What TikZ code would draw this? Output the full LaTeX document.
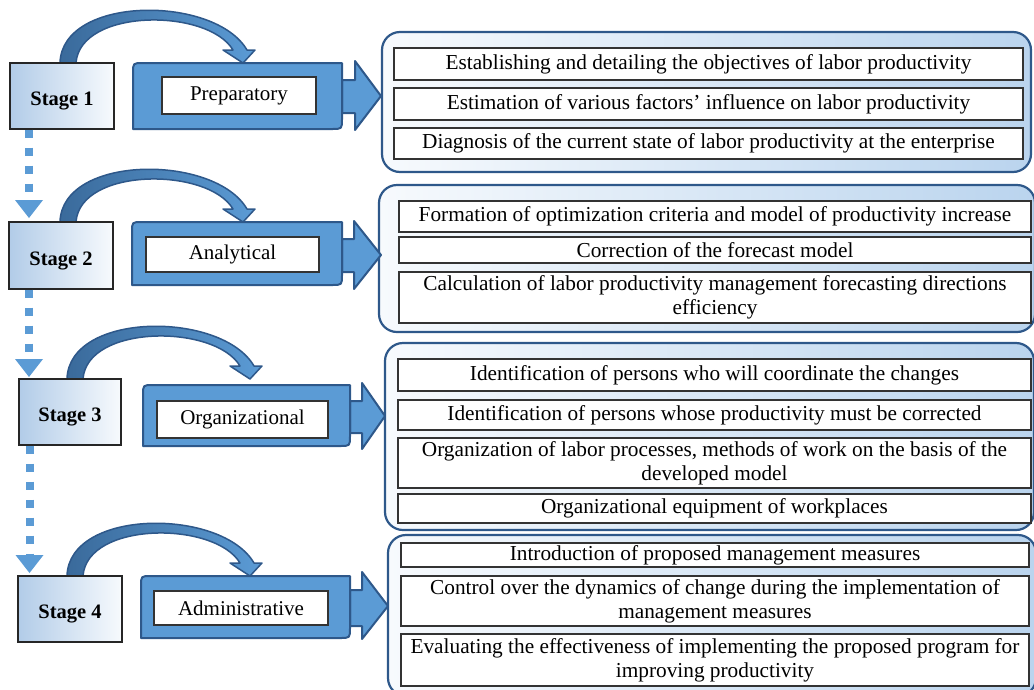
\documentclass[tikz,border=0pt]{standalone}
\usepackage{fontspec}
\setmainfont{Liberation Serif}
\usetikzlibrary{arrows.meta}
\definecolor{bfill}{RGB}{91,155,213}
\definecolor{bdark}{RGB}{46,88,138}
\definecolor{bandleft}{RGB}{58,106,155}
\definecolor{pright}{RGB}{186,212,238}
\definecolor{pleft}{RGB}{247,250,253}
\definecolor{sleft}{RGB}{178,204,232}
\definecolor{sright}{RGB}{247,250,253}
\newcommand\bentarrow[2]{%
  \path[band, shift={(#1,#2)}] (0,0) .. controls (2,-68) and (155,-68) .. (187,-13)
    -- (195,-13) -- (183,0) -- (163,-13) -- (173,-13)
    .. controls (148,-55) and (20,-55) .. (16,0) -- cycle;}
\tikzset{
  txt/.style={font=\fontsize{21.3pt}{24pt}\selectfont},
  stagebox/.style={draw=black!85, line width=1.2pt, left color=sleft, right color=sright,
    inner sep=0pt, text height=19pt, text depth=0pt, font=\fontsize{20.5pt}{23.5pt}\selectfont\bfseries},
  panel/.style={draw=bdark, line width=2.2pt, rounded corners=18pt, left color=pleft,
    right color=pright, inner sep=0pt},
  item/.style={txt, draw=black!80, fill=white, line width=1.2pt, inner sep=0pt, align=center},
  lbl/.style={item, font=\fontsize{21pt}{24pt}\selectfont},
  bluebox/.style={draw=bdark, line width=2pt, fill=bfill, line join=round},
  band/.style={draw=bdark, line width=1.5pt, left color=bandleft, right color=bfill, line join=round},
  dotline/.style={draw=bfill, line width=8pt, dash pattern=on 8pt off 10pt,
    -{Triangle[width=28pt,length=18pt,line width=0pt]}}
}
\begin{document}
\begin{tikzpicture}[x=1pt,y=-1pt]
\useasboundingbox (0,0) rectangle (1034,689);
\clip (0,0) rectangle (1034,689);

% panels
\node[panel, minimum width=649pt, minimum height=140pt] (P1) at (706.5,102) {};
\node[panel, minimum width=656pt, minimum height=147pt] (P2) at (707,258.5) {};
\node[panel, minimum width=649pt, minimum height=187pt] (P3) at (709.5,436.5) {};
\node[panel, minimum width=648pt, minimum height=161pt] (P4) at (712,615.5) {};

% block arrows
\path[bluebox] (342,80) -- (355,80) -- (355,61) -- (381,96) -- (355,130) -- (355,113) -- (342,113) -- cycle;
\path[bluebox] (342,239) -- (354,239) -- (354,221) -- (381,255) -- (354,289) -- (354,272) -- (342,272) -- cycle;
\path[bluebox] (350,401) -- (362,401) -- (362,383) -- (385,416) -- (362,449) -- (362,433) -- (350,433) -- cycle;
\path[bluebox] (350,590) -- (362,590) -- (362,572) -- (388,606) -- (362,639) -- (362,626) -- (350,626) -- cycle;

% blue boxes
\path[bluebox] (133,129) -- (133,73) .. controls (133,63) .. (143,63) -- (342,63) -- (342,119) .. controls (342,129) .. (332,129) -- cycle;
\path[bluebox] (132,285) -- (132,232) .. controls (132,222) .. (142,222) -- (342,222) -- (342,275) .. controls (342,285) .. (332,285) -- cycle;
\path[bluebox] (143,446) -- (143,395) .. controls (143,385) .. (153,385) -- (350,385) -- (350,436) .. controls (350,446) .. (340,446) -- cycle;
\path[bluebox] (141,638) -- (141,586) .. controls (141,576) .. (151,576) -- (350,576) -- (350,628) .. controls (350,638) .. (340,638) -- cycle;

\node[lbl, minimum width=154pt, minimum height=37pt] (b1) at (239,95.5) {Preparatory};
\node[lbl, minimum width=173pt, minimum height=35pt] (b2) at (232.5,254.5) {Analytical};
\node[lbl, minimum width=171pt, minimum height=37pt] (b3) at (242.5,419.5) {Organizational};
\node[lbl, minimum width=174pt, minimum height=34pt] (b4) at (241,608) {Administrative};

% bent arrows
\bentarrow{60}{63}
\bentarrow{60}{222}
\bentarrow{67}{379}
\bentarrow{67}{576}

% stages
\node[stagebox, minimum width=104pt, minimum height=66pt] (s1) at (62,96) {Stage 1};
\node[stagebox, minimum width=104pt, minimum height=67pt] (s2) at (61,255.5) {Stage 2};
\node[stagebox, minimum width=102pt, minimum height=66pt] (s3) at (70,412) {Stage 3};
\node[stagebox, minimum width=104pt, minimum height=66pt] (s4) at (70,609) {Stage 4};

% dotted connectors
\coordinate (e1) at (29,218);
\coordinate (e2) at (29,377);
\coordinate (e3) at (29.5,573);
\draw[dotline] (s1.south -| e1) -- (e1);
\draw[dotline] (s2.south -| e2) -- (e2);
\draw[dotline] (s3.south -| e3) -- (e3);

% items panel 1
\node[item, minimum width=629pt, minimum height=32pt] (p1a) at (708.5,64) {Establishing and detailing the objectives of labor productivity};
\node[item, minimum width=629pt, minimum height=32pt] (p1b) at (708.5,104) {Estimation of various factors’ influence on labor productivity};
\node[item, minimum width=629pt, minimum height=31pt] (p1c) at (708.5,143.5) {Diagnosis of the current state of labor productivity at the enterprise};

% items panel 2
\node[item, minimum width=632pt, minimum height=31pt] (p2a) at (715,216.5) {Formation of optimization criteria and model of productivity increase};
\node[item, minimum width=632pt, minimum height=26pt] (p2b) at (715,250) {Correction of the forecast model};
\node[item, minimum width=632pt, minimum height=51pt] (p2c) at (715,297.5) {Calculation of labor productivity management forecasting directions\\efficiency};

% items panel 3
\node[item, minimum width=633pt, minimum height=32pt] (p3a) at (714.5,375) {Identification of persons who will coordinate the changes};
\node[item, minimum width=633pt, minimum height=30pt] (p3b) at (714.5,415) {Identification of persons whose productivity must be corrected};
\node[item, minimum width=633pt, minimum height=50pt] (p3c) at (714.5,463) {Organization of labor processes, methods of work on the basis of the\\developed model};
\node[item, minimum width=633pt, minimum height=29pt] (p3d) at (714.5,508.5) {Organizational equipment of workplaces};

% items panel 4
\node[item, minimum width=628pt, minimum height=24pt] (p4a) at (715,555) {Introduction of proposed management measures};
\node[item, minimum width=628pt, minimum height=50pt] (p4b) at (715,601) {Control over the dynamics of change during the implementation of\\management measures};
\node[item, minimum width=628pt, minimum height=52pt] (p4c) at (715,660) {Evaluating the effectiveness of implementing the proposed program for\\improving productivity};
\end{tikzpicture}
\end{document}
